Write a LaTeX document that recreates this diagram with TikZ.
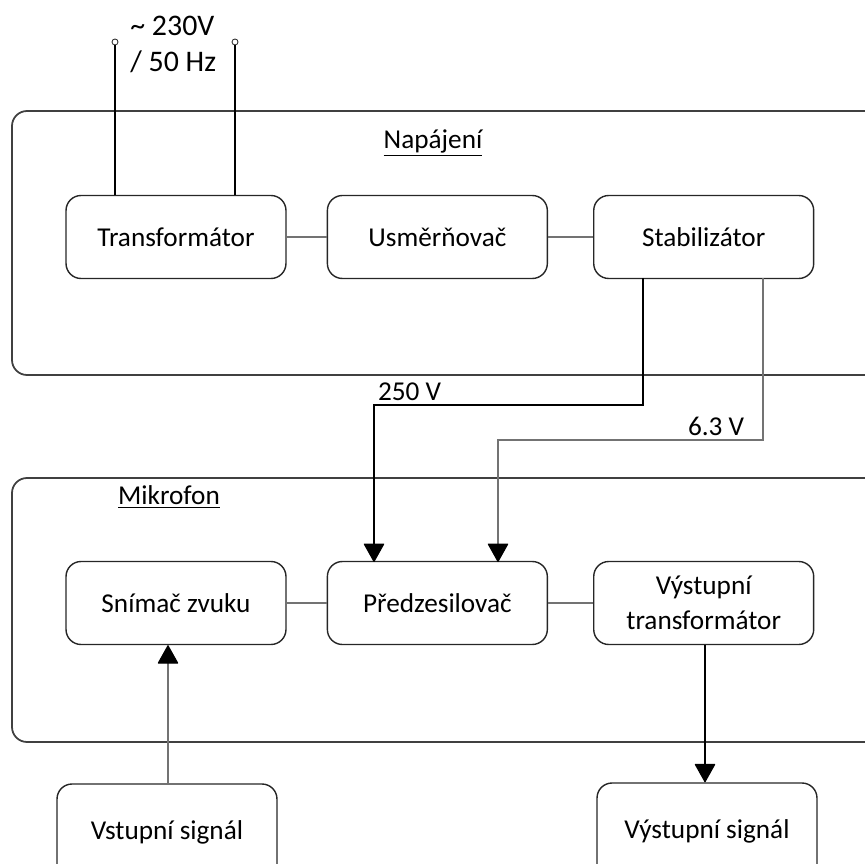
\documentclass[tikz,border=0pt]{standalone}
\usepackage{fontspec}
\setmainfont{Carlito}
\usetikzlibrary{arrows.meta,positioning}
\tikzset{x=0.02cm, y=-0.02cm,
>={Triangle[width=0.42cm,length=0.38cm,round,color=black,fill=black]}, % bold filled arrow heads
node distance=0.84cm, % gap between two blocks in a row
every node/.style={font=\fontsize{15.5}{19}\selectfont},
block/.style={draw=black!85, line width=0.8pt, rounded corners=0.3cm, minimum width=4.4cm, minimum height=1.66cm, align=center, inner sep=2pt},
group/.style={draw=black!75, line width=1pt, rounded corners=0.3cm},
wire/.style={draw=black!55, line width=0.6pt},
feed/.style={draw=black, line width=0.6pt},
terminal/.style={circle, draw=black!80, fill=white, line width=0.5pt, inner sep=0pt, minimum size=0.12cm},
}

\begin{document}
\begin{tikzpicture}
\useasboundingbox (0,0) rectangle (865,864);
% groups
\draw[group] (12,111) rectangle (900,375);
\draw[group] (12,478) rectangle (900,742);
\node (napajeni) at (433,143) {\underline{Napájení}};
\node (mikrofon) at (169,497) {\underline{Mikrofon}};

% power supply
\node[block] (trafo) at (176,237) {Transformátor};
\node[block, right=0.8cm of trafo] (usmer) {Usměrňovač};
\node[block, right=0.9cm of usmer] (stab) {Stabilizátor};

% microphone
\node[block] (snimac) at (176,603) {Snímač zvuku};
\node[block, right=0.8cm of snimac] (predzes) {Předzesilovač};
\node[block, right=0.9cm of predzes] (vysttr) {Výstupní\\[1pt]transformátor};

\node[block, minimum height=1.92cm] (vstup) at (167,832) {Vstupní signál};
\node[block, minimum height=1.92cm] (vystup) at (707,831) {Výstupní signál};

% mains
\node[terminal] (ac1) at (115,42) {};
\node[terminal] (ac2) at (235,42) {};
\node[anchor=west, align=left, inner sep=0pt, font=\fontsize{17}{20.5}\selectfont] (mains) at (130,44) {\textasciitilde{} 230V\\/ 50 Hz};
\draw[feed] (ac1) -- (ac1 |- trafo.north);
\draw[feed] (ac2) -- (ac2 |- trafo.north);

\draw[wire] (trafo) -- (usmer);
\draw[wire] (usmer) -- (stab);
\draw[wire] (snimac) -- (predzes);
\draw[wire] (predzes) -- (vysttr);

% supply rails
\coordinate (s1) at (643,278);
\coordinate (s2) at (763,278);
\coordinate (k1) at (643,405);
\coordinate (k2) at (763,440);
\draw[feed, ->] (s1) -- (k1) -| (374,562) node[pos=0.5, above right, inner sep=2pt] {250 V};
\draw[wire, ->] (s2) -- (k2) -| (498,562);
\node[anchor=south east, inner sep=2pt] (nizke) at ([xshift=-0.3cm]k2) {6.3 V};

% signal
\draw[wire, ->] (vstup.north -| 168,0) -- (snimac.south -| 168,0);
\draw[feed, ->] (vysttr.south -| 705,0) -- (vystup.north -| 705,0);
\end{tikzpicture}
\end{document}
